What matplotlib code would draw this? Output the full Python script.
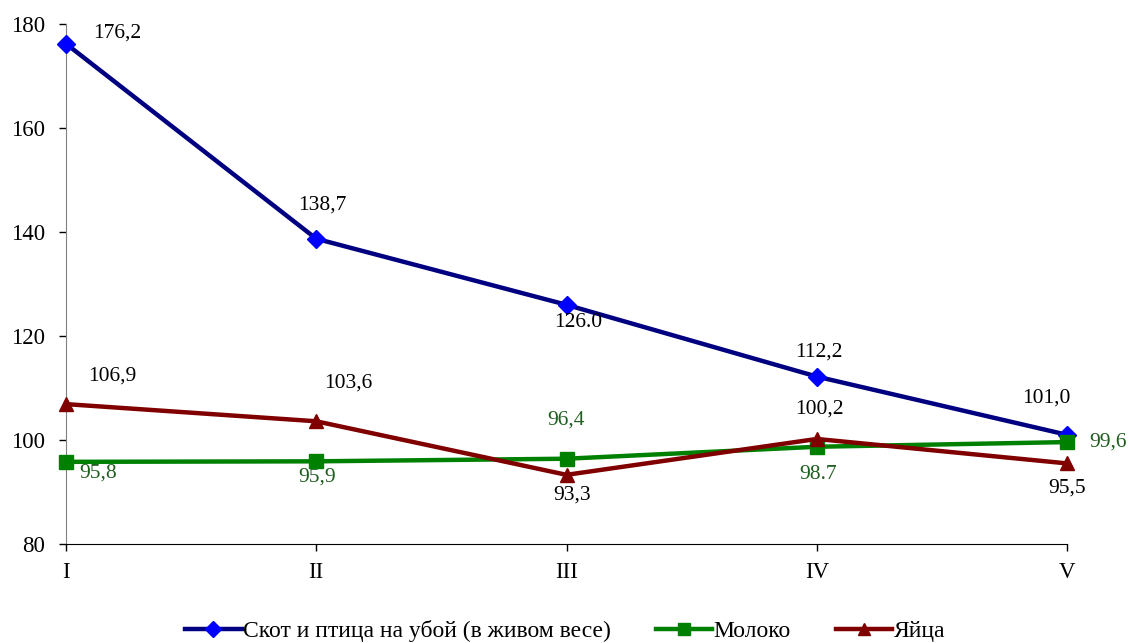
import matplotlib
matplotlib.use("Agg")
import matplotlib.pyplot as plt

plt.rcParams["font.family"] = ["Liberation Serif", "DejaVu Serif"]

periods = ["I", "II", "III", "IV", "V"]
livestock = [176.2, 138.7, 126.0, 112.2, 101.0]
milk = [95.8, 95.9, 96.4, 98.7, 99.6]
eggs = [106.9, 103.6, 93.3, 100.2, 95.5]

livestock_labels = ["176,2", "138,7", "126.0", "112,2", "101,0"]
milk_labels = ["95,8", "95,9", "96,4", "98.7", "99,6"]
eggs_labels = ["106,9", "103,6", "93,3", "100,2", "95,5"]

# label offsets in pixels (dx, dy up)
livestock_off = [(51, 11), (6, 34), (12, -18), (2, 25), (-21, 37)]
milk_off = [(32, -11), (1, -16), (0, 39), (1, -28), (41, 0)]
eggs_off = [(46, 28), (32, 38), (6, -20), (3, 30), (0, -25)]

fig = plt.figure(figsize=(11.3, 6.43), dpi=100)
ax = fig.add_axes([66 / 1130, 1 - 544 / 643, 1001 / 1130, 520 / 643])

x = list(range(len(periods)))
ax.plot(x, livestock, color="#000080", lw=3.2, marker="D", ms=9,
        mfc="#0000FF", mec="#0000FF", label="Скот и птица на убой (в живом весе)",
        clip_on=False, zorder=3)
ax.plot(x, milk, color="#008000", lw=3.2, marker="s", ms=10,
        mfc="#008000", mec="#008000", label="Молоко", clip_on=False, zorder=4)
ax.plot(x, eggs, color="#800000", lw=3.2, marker="^", ms=10,
        mfc="#800000", mec="#800000", label="Яйца", clip_on=False, zorder=5)

px = 0.72
for vals, labs, offs, col in [
    (livestock, livestock_labels, livestock_off, "black"),
    (milk, milk_labels, milk_off, "#1f5e1f"),
    (eggs, eggs_labels, eggs_off, "black"),
]:
    for i, (v, t, (dx, dy)) in enumerate(zip(vals, labs, offs)):
        ax.annotate(t, (i, v), xytext=(dx * px, dy * px), textcoords="offset points",
                    ha="center", va="center", fontsize=15.5, color=col)

ax.set_xlim(0, 4)
ax.set_ylim(80, 180)
ax.set_yticks([80, 100, 120, 140, 160, 180])
ax.set_xticks(x)
ax.set_xticklabels(periods)
ax.tick_params(axis="both", labelsize=16.5, direction="out", length=5, width=1, colors="black")
ax.tick_params(axis="y", pad=10)
ax.tick_params(axis="x", pad=8)
ax.spines["top"].set_visible(False)
ax.spines["right"].set_visible(False)
ax.spines["left"].set_color("#808080")
ax.spines["bottom"].set_color("black")

leg = fig.legend(loc="center", bbox_to_anchor=(565 / 1130, 1 - 631 / 643), ncol=3,
                 frameon=False, fontsize=17, handlelength=2.4, handletextpad=0.05,
                 columnspacing=1.9, markerscale=0.9)

fig.savefig("out.png", dpi=100)
